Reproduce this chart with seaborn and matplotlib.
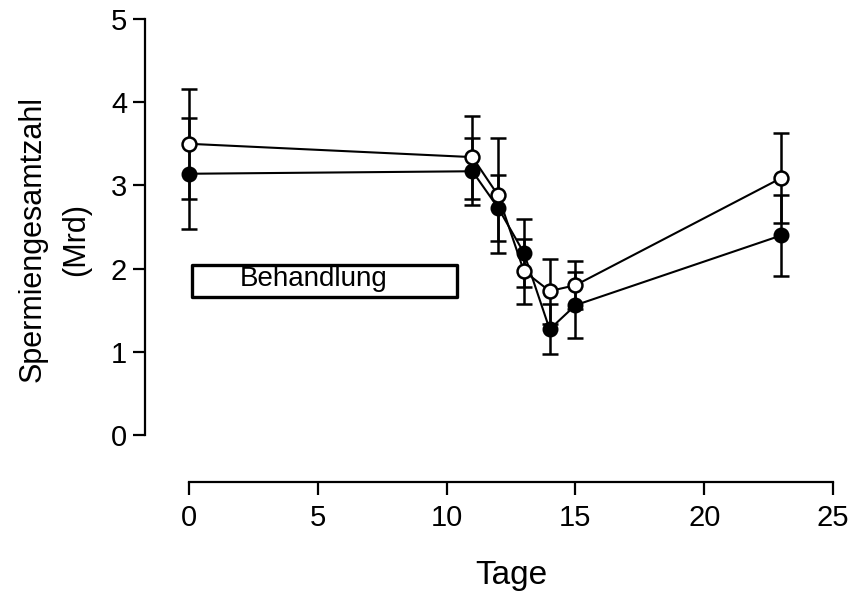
import matplotlib
matplotlib.use('Agg')
import matplotlib.pyplot as plt
from matplotlib.patches import Rectangle
import pandas as pd
import seaborn as sns

# %% values

tage = [0, 11, 12, 13, 14, 15, 23]
offen = [3.50, 3.34, 2.88, 1.97, 1.73, 1.80, 3.09]
offen_err = [0.66, 0.50, 0.69, 0.39, 0.39, 0.29, 0.54]
gefuellt = [3.14, 3.17, 2.73, 2.19, 1.27, 1.56, 2.40]
gefuellt_err = [0.67, 0.40, 0.40, 0.41, 0.30, 0.40, 0.49]

behandlung = (0.1, 10.4)   # Tage
behandlung_y = (1.66, 2.04)

df = pd.DataFrame({'Tage': tage, 'offen': offen, 'gefuellt': gefuellt})

# %% plot

sns.set_style('ticks')
plt.rcParams['font.family'] = ['Liberation Sans', 'DejaVu Sans']
plt.rcParams['text.color'] = 'black'
plt.rcParams['axes.labelcolor'] = 'black'

fig = plt.figure(figsize=(8.5, 5.92), dpi=100)
ax = fig.add_axes([0.2224, 0.2652, 0.7576, 0.7027])

# filled series first, open on top
ax.errorbar(tage, gefuellt, yerr=gefuellt_err, fmt='none', ecolor='black',
            elinewidth=1.8, capsize=6, capthick=1.8, clip_on=False, zorder=2)
sns.lineplot(data=df, x='Tage', y='gefuellt', ax=ax, color='black', linewidth=1.5,
             marker='o', markersize=10, markerfacecolor='black',
             markeredgecolor='black', markeredgewidth=1.5, clip_on=False, zorder=3)

ax.errorbar(tage, offen, yerr=offen_err, fmt='none', ecolor='black',
            elinewidth=1.8, capsize=6, capthick=1.8, clip_on=False, zorder=4)
sns.lineplot(data=df, x='Tage', y='offen', ax=ax, color='black', linewidth=1.5,
             marker='o', markersize=10, markerfacecolor='white',
             markeredgecolor='black', markeredgewidth=1.8, clip_on=False, zorder=5)

# treatment box
ax.add_patch(Rectangle((behandlung[0], behandlung_y[0]),
                       behandlung[1] - behandlung[0],
                       behandlung_y[1] - behandlung_y[0],
                       facecolor='white', edgecolor='black', linewidth=2.4,
                       joinstyle='round', zorder=1))
ax.text(4.85, (behandlung_y[0] + behandlung_y[1]) / 2 + 0.03, 'Behandlung',
        ha='center', va='center', fontsize=20, color='black')

ax.set_xlim(0, 25)
ax.set_ylim(0, 5)
ax.set_xticks([0, 5, 10, 15, 20, 25])
ax.set_yticks([0, 1, 2, 3, 4, 5])

ax.spines['top'].set_visible(False)
ax.spines['right'].set_visible(False)
ax.spines['left'].set_position(('outward', 31.5))
ax.spines['bottom'].set_position(('outward', 34))
for s in ['left', 'bottom']:
    ax.spines[s].set_linewidth(1.6)
    ax.spines[s].set_color('black')

ax.tick_params(axis='both', direction='out', length=9, width=1.6,
               labelsize=21, colors='black')
ax.tick_params(axis='x', pad=7)
ax.tick_params(axis='y', pad=4)

ax.set_xlabel('Tage', fontsize=24)
ax.xaxis.set_label_coords(0.5, -0.30)
ax.set_ylabel('Spermiengesamtzahl\n(Mrd)', fontsize=22, linespacing=1.6)
ax.yaxis.set_label_coords(-0.152, 0.47)

plt.savefig('out.png', dpi=100)
